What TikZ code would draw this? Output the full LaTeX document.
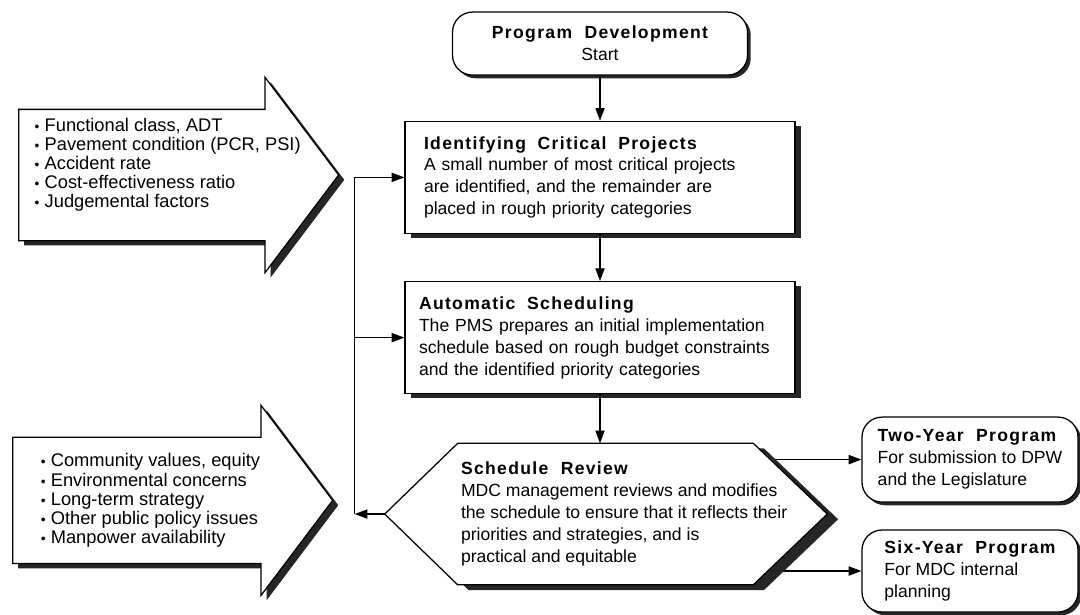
\documentclass[tikz,border=0pt]{standalone}
\usepackage{fontspec}
\setmainfont{Liberation Sans}
\newfontfamily\headfont[LetterSpace=7.5]{Liberation Sans}
\usetikzlibrary{positioning,shapes.arrows,shadows,arrows.meta,backgrounds}

\newcommand{\steptitle}[1]{{\headfont\bfseries #1}}
\newcommand{\factor}[2][0.12cm]{\mbox{\hspace*{#1}\makebox[0.25cm][l]{\scalebox{0.75}{\textbullet}}#2}}

\begin{document}
\begin{tikzpicture}[
    node distance=1.15cm,
    basefont/.style={font=\fontsize{12.5}{15.6}\selectfont},
    hardshadow/.style={drop shadow={shadow xshift=0.14cm, shadow yshift=-0.12cm, fill=black!85, opacity=1}},
    stepbox/.style={draw, line width=0.9pt, fill=white, hardshadow, basefont, text width=8.8cm, inner xsep=0.475cm, minimum height=2.8cm, align=left},
    startbox/.style={draw, line width=0.9pt, fill=white, rounded corners=0.5cm, drop shadow={shadow xshift=0.08cm, shadow yshift=-0.08cm, fill=black!85, opacity=1}, basefont, align=center, minimum width=7.375cm, minimum height=1.575cm},
    endbox/.style={draw, line width=0.9pt, fill=white, rounded corners=0.5cm, drop shadow={shadow xshift=0.08cm, shadow yshift=-0.08cm, fill=black!85, opacity=1}, basefont, align=left, minimum width=5.4cm},
    reviewframe/.style={rectangle, minimum width=11.05cm, minimum height=3.525cm, inner sep=0pt},
    reviewshape/.style={draw, line width=0.9pt, fill=white, drop shadow={shadow xshift=0.27cm, shadow yshift=-0.13cm, fill=black!85, opacity=1}},
    factorarrow/.style={single arrow, draw, line width=0.9pt, fill=white, hardshadow, inner sep=0pt, single arrow head extend=0.8cm, single arrow tip angle=106, minimum height=8cm, font=\fontsize{13}{13.6}\selectfont},
    flow/.style={-{Triangle[length=9pt,width=6.5pt]}, line width=0.9pt}
]
\useasboundingbox (0,0) rectangle (27,-15.35);

% main column
\node[startbox] (start) at (15,-1.09) {\steptitle{Program\ \ Development}\\ Start};
\node[stepbox, below=1.125cm of start] (identify) {\steptitle{Identifying\ \ Critical\ \ Projects}\\
    A small number of most critical projects\\ are identified, and the remainder are\\ placed in rough priority categories};
\node[stepbox, below=1.175cm of identify, inner xsep=0.35cm, text width=9.05cm] (autosched) {\steptitle{Automatic\ \ Scheduling}\\
    The PMS prepares an initial implementation\\ schedule based on rough budget constraints\\ and the identified priority categories};

% review step: pointed both ways
\node[reviewframe, below=1.225cm of autosched, xshift=0.15cm] (review) {};
\path[reviewshape] ([xshift=1.825cm]review.north west) -- ([xshift=-1.85cm]review.north east) -- (review.east)
    -- ([xshift=-1.85cm]review.south east) -- ([xshift=1.825cm]review.south west) -- (review.west) -- cycle;
\node[basefont, align=left, anchor=west, inner sep=0pt] (reviewtext) at ([xshift=1.9cm]review.west) {\steptitle{Schedule\ \ Review}\\
    MDC management reviews and modifies\\ the schedule to ensure that it reflects their\\ priorities and strategies, and is\\ practical and equitable};

% outputs
\node[endbox, minimum height=2.125cm] (twoyear) at (24.25,-11.49) {\steptitle{Two-Year\ \ Program}\\ For submission to DPW\\ and the Legislature};
\node[endbox, minimum height=2.05cm] (sixyear) at (24.25,-14.275) {\steptitle{Six-Year\ \ Program}\\ For MDC internal\\ planning};

% factor arrows
\node[factorarrow, anchor=tail] (critfactors) at (0.45,-4.375) {\parbox[c][3.25cm][c]{6.2cm}{\raggedright
    \factor{Functional class, ADT}\\ \factor{Pavement condition (PCR, PSI)}\\ \factor{Accident rate}\\
    \factor{Cost-effectiveness ratio}\\ \factor{Judgemental factors}\par\vspace{0.5cm}}};
\node[factorarrow, anchor=tail] (policyfactors) at (0.3,-12.51) {\parbox[c][3.125cm][c]{6.2cm}{\raggedright
    \factor[0.4cm]{Community values, equity}\\ \factor[0.4cm]{Environmental concerns}\\ \factor[0.4cm]{Long-term strategy}\\
    \factor[0.4cm]{Other public policy issues}\\ \factor[0.4cm]{Manpower availability}}};

\draw[flow] (start) -- (identify);
\draw[flow] (identify) -- (autosched);
\draw[flow] (autosched.south) -- (autosched.south |- review.north);

% feedback loop
\coordinate[left=0.75cm of review.west] (loop);
\draw[flow] (review.west) -- (loop);
\draw[flow] (loop) |- (identify.west);
\draw[flow] (loop |- autosched.west) -- (autosched.west);

\begin{scope}[on background layer]
\draw[flow] (review.center |- twoyear.west) -- (twoyear.west);
\draw[flow] (review.center |- sixyear.west) -- (sixyear.west);
\end{scope}
\end{tikzpicture}
\end{document}
